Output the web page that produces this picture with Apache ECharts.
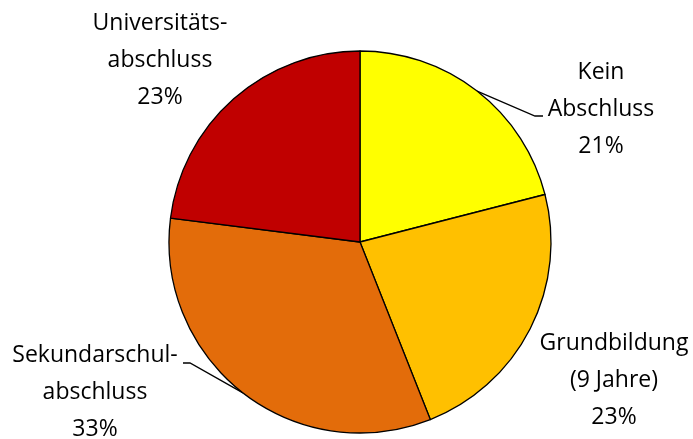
<!DOCTYPE html>
<html><head><meta charset="utf-8">
<script src="https://cdn.jsdelivr.net/npm/echarts@6/dist/echarts.min.js"></script>
<style>html,body{margin:0;padding:0;background:#fff}#c{width:693px;height:439px}</style>
</head><body><div id="c"></div>
<script>
const categories = ['Kein\nAbschluss', 'Grundbildung\n(9 Jahre)', 'Sekundarschul-\nabschluss', 'Universitäts-\nabschluss'];
const values = [21, 23, 33, 23];
const colors = ['#FFFF00', '#FFC000', '#E36C0A', '#C00000'];
const showLine = [true, false, true, false];
const labelPos = [[601, 109], [614, 380], [95, 392], [160, 60]];
// label line elbow/end (style positions for connectors)
const lineEnds = [[[535, 116], [543, 116]], null, [[190, 363], [183, 363]], null];

const chart = echarts.init(document.getElementById('c'));
chart.setOption({
  animation: false,
  series: [{
    type: 'pie',
    center: [360, 242],
    radius: 191,
    startAngle: 90,
    clockwise: true,
    data: categories.map((n, i) => ({
      name: n, value: values[i],
      itemStyle: { color: colors[i] },
      labelLine: { show: showLine[i] }
    })),
    itemStyle: { borderColor: '#000', borderWidth: 1.3 },
    label: {
      show: true,
      formatter: '{b}\n{c}%',
      fontFamily: 'Open Sans',
      fontSize: 23,
      lineHeight: 37,
      color: '#000',
      align: 'center',
      overflow: 'none'
    },
    labelLine: { show: true, lineStyle: { color: '#000', width: 1.3 }, length: 20, length2: 10 },
    labelLayout: function (p) {
      const i = p.dataIndex;
      const pos = labelPos[i];
      const out = { x: pos[0], y: pos[1], align: 'center', verticalAlign: 'middle' };
      if (lineEnds[i] && p.labelLinePoints && p.labelLinePoints.length) {
        out.labelLinePoints = [p.labelLinePoints[0].slice(), lineEnds[i][0], lineEnds[i][1]];
      }
      return out;
    },
    emphasis: { disabled: true }
  }]
});
</script></body></html>
